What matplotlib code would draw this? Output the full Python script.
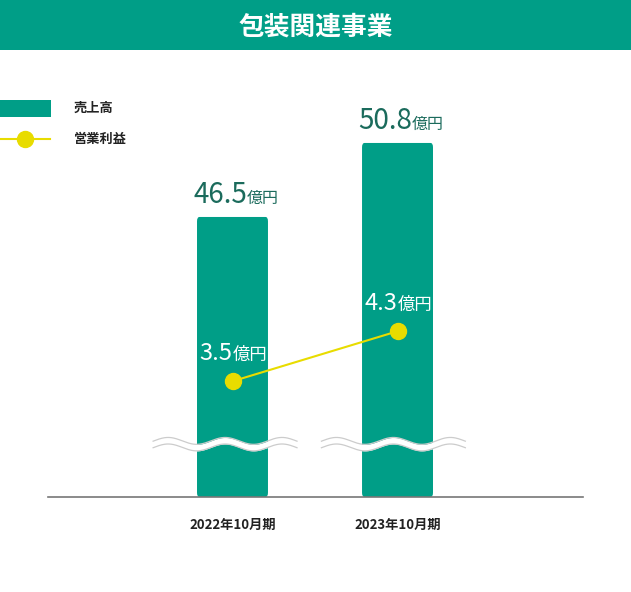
import numpy as np
import matplotlib
matplotlib.use("Agg")
import matplotlib.pyplot as plt
from matplotlib.patches import Rectangle, FancyBboxPatch
from matplotlib.lines import Line2D

plt.rcParams['font.family'] = ['Noto Sans CJK JP', 'DejaVu Sans']

# data
title = "包装関連事業"
periods = ["2022年10月期", "2023年10月期"]
sales = [46.5, 50.8]          # 売上高 (億円)
profit = [3.5, 4.3]           # 営業利益 (億円)
legend_labels = ["売上高", "営業利益"]
unit = "億円"

GREEN = "#009e87"
DARK = "#1b6b5c"
YELLOW = "#e8dc00"

W, H = 631, 592
fig = plt.figure(figsize=(W / 100, H / 100), dpi=100)

def fx(px):
    return px / W

def fy(py):
    return 1 - py / H

# title banner
fig.add_artist(Rectangle((0, fy(50)), 1, 50 / H, transform=fig.transFigure,
                         color=GREEN, lw=0))
fig.text(0.5, fy(27), title, color="white", fontsize=18.5, fontweight="bold",
         ha="center", va="center")

# legend
fig.add_artist(Rectangle((0, fy(117)), fx(51), 17 / H, transform=fig.transFigure,
                         color=GREEN, lw=0))
fig.add_artist(Line2D([0, fx(50)], [fy(139), fy(139)], transform=fig.transFigure,
                      color=YELLOW, lw=1.5))
fig.add_artist(Line2D([fx(25)], [fy(139)], transform=fig.transFigure,
                      marker="o", markersize=11.5, color=YELLOW, lw=0))
fig.text(fx(74), fy(108), legend_labels[0], fontsize=9.5, fontweight="bold",
         color="#222222", va="center")
fig.text(fx(74), fy(139), legend_labels[1], fontsize=9.5, fontweight="bold",
         color="#222222", va="center")

# axes
ax = fig.add_axes([fx(48), 95 / H, 535 / W, 437 / H])
x = np.arange(len(periods))
bw = 0.43
base = 30.23
ax.set_xlim(-1.118, 2.124)
ax.set_ylim(base, 55.62)
for xi, v in zip(x, sales):
    ax.add_patch(FancyBboxPatch((xi - bw / 2, base), bw, v - base,
                                boxstyle="round,pad=0,rounding_size=0.015",
                                mutation_aspect=1 / 0.06,
                                color=GREEN, lw=0, zorder=2))
    ax.annotate(f"{v:.1f}", (xi, v), xytext=(10.5, 10), textcoords="offset points",
                ha="right", va="baseline", fontsize=20, color=DARK)
    ax.annotate(unit, (xi, v), xytext=(10.5, 10), textcoords="offset points",
                ha="left", va="baseline", fontsize=11.5, color=DARK)

# break marks
for xi, shift in zip(x, [-0.045, -0.025]):
    c = xi + shift
    t = np.linspace(c - 0.436, c + 0.436, 200)
    wave = 33.3 + 0.2 * np.sin((t - c) / 0.345 * 2 * np.pi + np.pi / 2)
    ax.fill_between(t, wave - 0.19, wave + 0.19, color="white", lw=0, zorder=3)
    ax.plot(t, wave + 0.19, color="#cccccc", lw=0.9, zorder=3)
    ax.plot(t, wave - 0.19, color="#cccccc", lw=0.9, zorder=3)

ax.axhline(base, color="#777777", lw=1.2, zorder=4, clip_on=False)
for s in ax.spines.values():
    s.set_visible(False)
ax.set_yticks([])
ax.set_xticks(x)
ax.set_xticklabels(periods, fontsize=9.5, fontweight="bold", color="#222222")
ax.tick_params(axis="x", length=0, pad=15)

# operating profit line
ax2 = ax.twinx()
ax2.set_ylim(1.644, 8.636)
ax2.plot(x + 0.005, profit, color=YELLOW, lw=1.5, marker="o", markersize=11.5, zorder=5)
for xi, v in zip(x, profit):
    ax2.annotate(f"{v:.1f}", (xi, v), xytext=(0, 15), textcoords="offset points",
                 ha="right", va="baseline", fontsize=17, color="white")
    ax2.annotate(unit, (xi, v), xytext=(0, 15), textcoords="offset points",
                 ha="left", va="baseline", fontsize=12.5, color="white")
for s in ax2.spines.values():
    s.set_visible(False)
ax2.set_yticks([])

fig.savefig("out.png", dpi=100)
